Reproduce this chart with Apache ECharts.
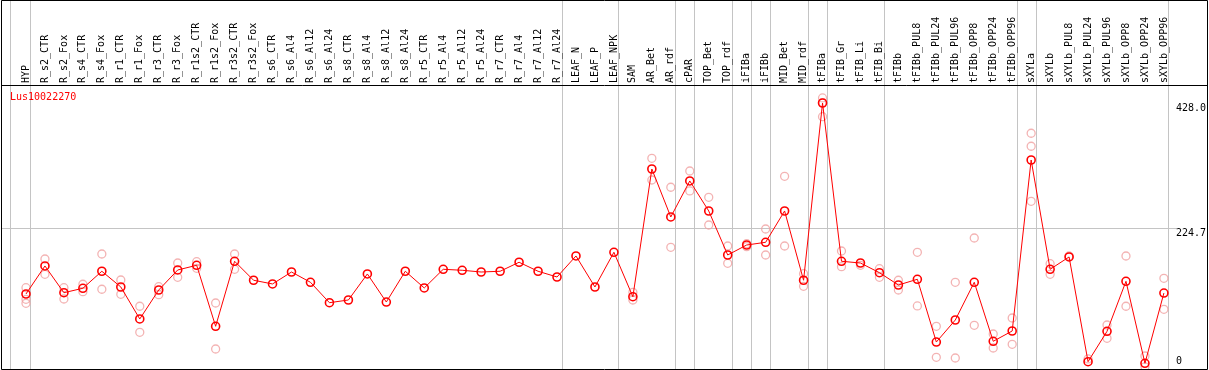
<!DOCTYPE html>
<html><head><meta charset="utf-8">
<script src="https://cdn.jsdelivr.net/npm/echarts@6/dist/echarts.min.js"></script>
<style>html,body{margin:0;padding:0;background:#fff}#c{width:1209px;height:370px}</style>
</head><body><div id="c"></div>
<script>
const categories = ['HYP','R_s2_CTR','R_s2_Fox','R_s4_CTR','R_s4_Fox','R_r1_CTR','R_r1_Fox','R_r3_CTR','R_r3_Fox','R_r1s2_CTR','R_r1s2_Fox','R_r3s2_CTR','R_r3s2_Fox','R_s6_CTR','R_s6_Al4','R_s6_Al12','R_s6_Al24','R_s8_CTR','R_s8_Al4','R_s8_Al12','R_s8_Al24','R_r5_CTR','R_r5_Al4','R_r5_Al12','R_r5_Al24','R_r7_CTR','R_r7_Al4','R_r7_Al12','R_r7_Al24','LEAF_N','LEAF_P','LEAF_NPK','SAM','AR_Bet','AR_rdf','cPAR','TOP_Bet','TOP_rdf','iFIBa','iFIBb','MID_Bet','MID_rdf','tFIBa','tFIB_Gr','tFIB_Li','tFIB_Bi','tFIBb','tFIBb_PUL8','tFIBb_PUL24','tFIBb_PUL96','tFIBb_OPP8','tFIBb_OPP24','tFIBb_OPP96','sXYLa','sXYLb','sXYLb_PUL8','sXYLb_PUL24','sXYLb_PUL96','sXYLb_OPP8','sXYLb_OPP24','sXYLb_OPP96'];
const meanValues = [118.1,163.6,120.2,127.4,155.0,129.5,77.6,124.6,157.1,164.7,65.7,171.2,140.4,134.4,153.8,137.1,104.0,108.4,150.6,105.1,155.0,127.9,158.2,156.6,153.8,155.0,169.6,155.0,145.7,179.8,129.5,185.8,113.7,320.9,243.1,301.5,252.8,181.4,197.6,202.0,252.8,140.4,428.0,171.2,168.4,152.7,132.7,142.0,40.2,75.9,137.1,41.4,58.1,335.5,158.2,178.2,8.3,57.6,138.7,5.7,119.7];
const rep1 = [128.3,174.9,128.3,133.9,183.0,140.8,98.2,130.0,168.4,170.5,103.5,183.0,null,null,null,null,null,null,null,null,null,null,null,null,null,null,null,null,null,null,null,null,120.9,338.3,291.3,317.7,275.0,196.0,199.7,223.6,309.1,151.1,436.2,187.9,164.7,159.2,140.4,185.8,65.7,137.1,209.0,53.2,79.2,378.9,167.3,179.8,12.7,67.8,179.8,17.5,143.6];
const rep2 = [109.5,150.1,110.0,121.9,125.8,117.6,56.0,117.0,145.2,159.8,28.9,158.2,null,null,null,null,null,null,null,null,null,null,null,null,null,null,null,null,null,null,null,null,108.4,303.1,193.9,285.3,230.1,167.9,194.9,181.4,196.0,130.6,405.8,162.4,null,145.2,124.6,98.7,15.4,14.3,67.3,30.5,36.5,268.5,150.1,null,null,46.2,98.2,0,93.3];
const rep3 = [103.0,null,null,null,null,null,null,null,null,null,null,null,null,null,null,null,null,null,null,null,null,null,null,null,null,null,null,null,null,null,null,null,null,null,null,null,null,null,null,null,null,null,428.5,null,null,null,null,null,null,null,null,null,null,357.8,null,null,null,null,null,null,null];
const yTickValues = [0, 224.7, 428.0];
const gridValue = 224.7;
const groupEnds = [0, 28, 31, 34, 35, 37, 38, 39, 41, 42, 45, 52, 53, 60];
const geneName = 'Lus10022270';

const FONT = 'DejaVu Sans Mono';
const chart = echarts.init(document.getElementById('c'), null, {renderer: 'canvas'});
const fmt = v => v === 0 ? '0' : v.toFixed(1);
const yCommon = {
  type: 'value', position: 'right', min: -3.57, max: 457.2,
  axisLine: {show: false}, axisTick: {show: false}, splitLine: {show: false}
};
const repStyle = {
  type: 'scatter', symbol: 'circle', symbolSize: 8, z: 2, silent: true,
  itemStyle: {color: 'rgba(0,0,0,0)', borderColor: '#f0a0a0', borderWidth: 1.3}
};
chart.setOption({
  animation: false,
  backgroundColor: '#fff',
  grid: {left: 16.5, right: 33.5, top: 85, bottom: 1, containLabel: false},
  xAxis: {
    type: 'category', data: categories, position: 'top', boundaryGap: true,
    axisLine: {show: false}, axisTick: {show: false}, splitLine: {show: false},
    axisLabel: {interval: 0, rotate: 90, margin: 2, fontFamily: FONT, fontSize: 10, color: '#000'}
  },
  yAxis: [
    Object.assign({}, yCommon, {axisLabel: {customValues: yTickValues.filter(v => v !== 0), formatter: fmt, margin: 2.5, verticalAlign: 'top', fontFamily: FONT, fontSize: 10, color: '#000'}}),
    Object.assign({}, yCommon, {axisLabel: {customValues: yTickValues.filter(v => v === 0), formatter: fmt, margin: 2.5, verticalAlign: 'bottom', fontFamily: FONT, fontSize: 10, color: '#000'}})
  ],
  series: [
    Object.assign({}, repStyle, {data: rep1}),
    Object.assign({}, repStyle, {data: rep2}),
    Object.assign({}, repStyle, {data: rep3}),
    {
      type: 'line', data: meanValues, z: 3, symbol: 'circle', symbolSize: 8, showSymbol: true,
      lineStyle: {color: '#ff0000', width: 1},
      itemStyle: {color: 'rgba(0,0,0,0)', borderColor: '#ff0000', borderWidth: 1.6}
    }
  ]
});

const px = i => chart.convertToPixel({xAxisIndex: 0}, i);
const gy = Math.round(chart.convertToPixel({yAxisIndex: 0}, gridValue)) + 0.5;
const graphics = [];
const GREY = '#c4c4c4';
const vline = x => ({type: 'line', z: -1, silent: true, shape: {x1: x, y1: 0, x2: x, y2: 369}, style: {stroke: GREY, lineWidth: 1}});
graphics.push(vline(Math.round(px(0) - 16) + 0.5));
groupEnds.forEach(i => graphics.push(vline(Math.round(px(i) + 4.5) + 0.5)));
graphics.push({type: 'line', z: -1, silent: true, shape: {x1: 1, y1: gy, x2: 1177, y2: gy}, style: {stroke: GREY, lineWidth: 1}});
graphics.push({type: 'line', z: 10, silent: true, shape: {x1: 1, y1: 85.5, x2: 1208, y2: 85.5}, style: {stroke: '#000', lineWidth: 1}});
graphics.push({type: 'rect', z: 10, silent: true, shape: {x: 1.5, y: 0.5, width: 1206, height: 369}, style: {stroke: '#000', fill: null, lineWidth: 1}});
graphics.push({type: 'text', z: 10, silent: true, x: 10, y: 92, style: {text: geneName, fill: '#ff0000', font: '10px "' + FONT + '"'}});
chart.setOption({graphic: graphics});
</script>
</body></html>
